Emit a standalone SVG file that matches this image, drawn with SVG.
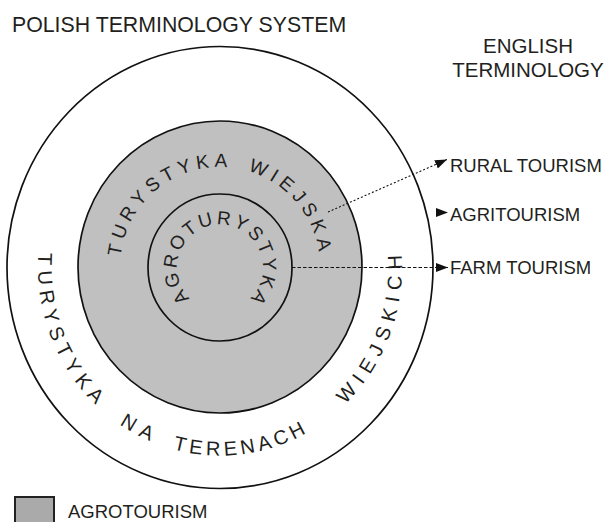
<svg xmlns="http://www.w3.org/2000/svg" width="609" height="522" viewBox="0 0 609 522">
<style>
text{font-family:"Liberation Sans",Arial,sans-serif;fill:#231f20}
.lbl{font-size:18.5px}
.hdr{font-size:20.5px}
.title{font-size:21.3px}
.ring{font-size:19px}
.outer{font-size:20px}
.circ{stroke:#111;stroke-width:1.7}
.conn{stroke:#111;stroke-width:1.1;fill:none}
</style>
<defs>
<marker id="ah" markerUnits="userSpaceOnUse" markerWidth="14" markerHeight="10" refX="12" refY="4.5" orient="auto" viewBox="0 0 14 10">
<path d="M0,0 L12,4.5 L0,9 Z" fill="#111"/>
</marker>
<path id="op" d="M220,79.5 A182,188 0 0 0 38,267.5 A182,188 0 0 0 220,455.5 A182,188 0 0 0 402,267.5 A182,188 0 0 0 220,79.5"/>
<path id="rp" d="M220,367 A100,100 0 1 1 220,167 A100,100 0 1 1 220,367"/>
<path id="ip" d="M220,310.5 A43,43 0 1 1 220,224.5 A43,43 0 1 1 220,310.5"/>
</defs>
<rect width="609" height="522" fill="#fff"/>
<text class="title" x="12" y="32">POLISH TERMINOLOGY SYSTEM</text>
<text class="hdr" x="528" y="53" text-anchor="middle">ENGLISH</text>
<text class="hdr" x="528" y="77" text-anchor="middle">TERMINOLOGY</text>
<g id="outer-ring">
<ellipse class="circ" cx="220" cy="267.5" rx="213" ry="221" fill="#fff"/>
<text class="outer"><textPath href="#op" startOffset="31.2%" text-anchor="middle" letter-spacing="6">TURYSTYKA</textPath></text>
<text class="outer"><textPath href="#op" startOffset="42.6%" text-anchor="middle" letter-spacing="7">NA</textPath></text>
<text class="outer"><textPath href="#op" startOffset="52%" text-anchor="middle" letter-spacing="4">TERENACH</textPath></text>
<text class="outer"><textPath href="#op" startOffset="69.3%" text-anchor="middle" letter-spacing="7">WIEJSKICH</textPath></text>
</g>
<g id="rural-ring">
<ellipse class="circ" cx="220" cy="267" rx="142" ry="146" fill="#c0c0c0"/>
<text class="ring"><textPath href="#rp" startOffset="39.3%" text-anchor="middle" letter-spacing="5">TURYSTYKA</textPath></text>
<text class="ring"><textPath href="#rp" startOffset="63.9%" text-anchor="middle" letter-spacing="5">WIEJSKA</textPath></text>
</g>
<g id="agro-circle">
<ellipse class="circ" cx="220" cy="267.5" rx="72" ry="73.5" fill="#c0c0c0"/>
<text class="ring"><textPath href="#ip" startOffset="50.5%" text-anchor="middle" letter-spacing="2.8">AGROTURYSTYKA</textPath></text>
</g>
<g id="connectors">
<line class="conn" x1="328" y1="212" x2="447" y2="159.5" stroke-dasharray="2 2" marker-end="url(#ah)"/>
<line x1="437" y1="212.5" x2="448" y2="212.5" stroke="none" marker-end="url(#ah)"/>
<line class="conn" x1="292" y1="267.5" x2="448" y2="267.5" stroke-dasharray="3.5 2" marker-end="url(#ah)"/>
</g>
<g id="labels">
<text class="lbl" x="450" y="172">RURAL TOURISM</text>
<text class="lbl" x="450" y="221">AGRITOURISM</text>
<text class="lbl" x="450" y="273.5">FARM TOURISM</text>
</g>
<g id="legend">
<rect x="15" y="497" width="39" height="32" fill="#aaaaaa" stroke="#222" stroke-width="2"/>
<text class="lbl" x="68" y="518">AGROTOURISM</text>
</g>
</svg>
